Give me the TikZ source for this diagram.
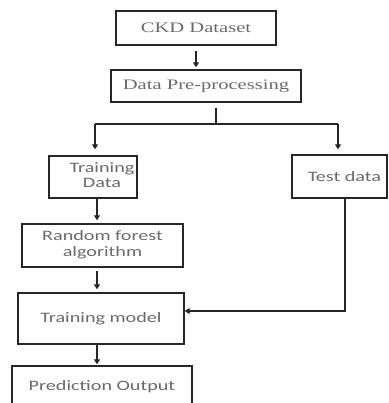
\documentclass[tikz,border=0pt]{standalone}
\usepackage{fontspec}
\usetikzlibrary{arrows.meta}
\newfontfamily\serf[FakeStretch=1.42]{Liberation Serif}
\newfontfamily\calf[FakeStretch=1.4]{Carlito}
\definecolor{txtgray}{HTML}{6A6A6A}
\definecolor{linec}{HTML}{262626}
\tikzset{
  box/.style={draw=linec, line width=1.4pt, inner sep=0pt, text=txtgray, align=center},
  serbox/.style={box, font=\serf\fontsize{14.5}{16}\selectfont},
  calbox/.style={box, font=\calf\fontsize{14.4}{15.5}\selectfont},
  ln/.style={draw=linec, line width=1.3pt},
  arr/.style={ln, -{Triangle[length=5pt,width=6pt]}}
}
\begin{document}
\begin{tikzpicture}[x=1pt,y=-1pt]
\useasboundingbox (0,0) rectangle (388,403);
\node[serbox, minimum width=160pt, minimum height=34pt] (ckd) at (196,28) {CKD Dataset};
\node[serbox, minimum width=190pt, minimum height=32pt] (dpp) at (206,86) {Data Pre-processing};
\node[calbox, minimum width=88pt, minimum height=42pt] (train) at (93,177)
  {\hspace*{18pt}\begin{tabular}{@{}c@{}}Training\\Data\end{tabular}};
\node[calbox, minimum width=95pt, minimum height=43pt] (test) at (339.5,176.5)
  {\hspace*{10pt}Test data};
\node[calbox, minimum width=161pt, minimum height=43pt] (rfa) at (102.5,245.5)
  {\begin{tabular}{@{}c@{}}Random forest\\algorithm\end{tabular}};
\node[calbox, minimum width=166pt, minimum height=51pt] (tm) at (101,318.5) {Training model};
\node[calbox, minimum width=180pt, minimum height=42pt] (po) at (102,387) {Prediction Output};

\coordinate (sp) at (216,124);
\coordinate (jl) at (95,124);
\coordinate (jr) at (338,124);
\coordinate (tj) at (345,311);

\draw[arr, shorten <=5pt, shorten >=2pt] (ckd.south) -- (ckd.south |- dpp.north);
\draw[ln, shorten <=5pt] (dpp.south -| sp) -- (sp);
\draw[ln] (jl) -- (jr);
\draw[arr, shorten >=6pt] (jl) -- (jl |- train.north);
\draw[arr, shorten >=5pt] (jr) -- (jr |- test.north);
\draw[arr, shorten >=3pt] ([xshift=4pt]train.south) -- ([xshift=4pt]train.south |- rfa.north);
\draw[arr, shorten <=3pt, shorten >=3pt] ([xshift=-5.5pt]rfa.south) -- ([xshift=-5.5pt]rfa.south |- tm.north);
\draw[arr, shorten >=1pt] ([xshift=-4pt]tm.south) -- ([xshift=-4pt]tm.south |- po.north);
\draw[arr] (test.south -| tj) -- (tj) -- (tm.east |- tj);
\end{tikzpicture}
\end{document}
